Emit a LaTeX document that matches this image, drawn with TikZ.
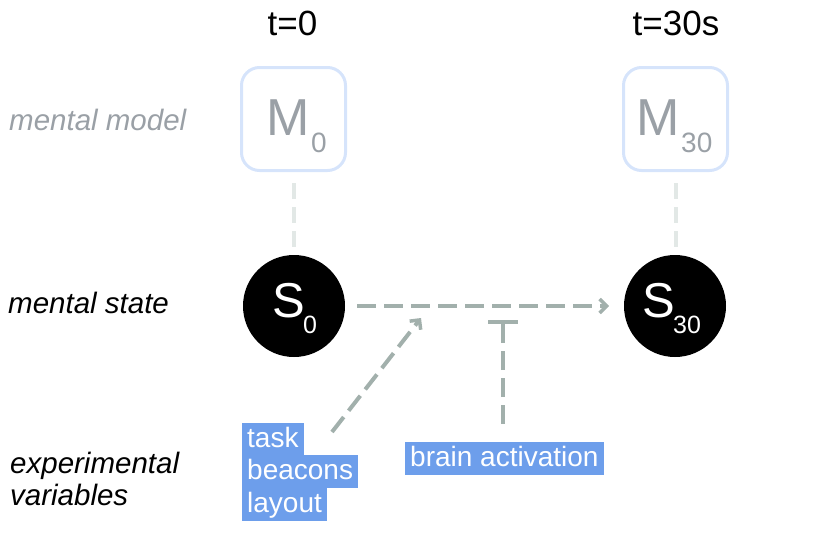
\documentclass[tikz,border=0pt]{standalone}
\usepackage{fontspec}
\setmainfont{Liberation Sans}
\usetikzlibrary{arrows.meta}
\definecolor{boxline}{HTML}{D6E4FB}
\definecolor{mgray}{HTML}{9AA0A6}
\definecolor{lgray}{HTML}{E2E8E6}
\definecolor{agray}{HTML}{A2B0AC}
\definecolor{lblue}{HTML}{6D9EEB}
\begin{document}
\begin{tikzpicture}[x=1pt,y=-1pt,
  timelabel/.style={font=\fontsize{35}{40}\selectfont, inner sep=0pt, anchor=base},
  modelbox/.style={draw=boxline, line width=3pt, rounded corners=18pt, minimum width=104pt, minimum height=103pt, inner sep=0pt},
  bigM/.style={text=mgray, font=\fontsize{52}{56}\selectfont, inner sep=0pt, anchor=base west},
  subM/.style={text=mgray, font=\fontsize{28}{30}\selectfont, inner sep=0pt, anchor=base west},
  statenode/.style={circle, fill=black, minimum size=102pt, inner sep=0pt},
  bigS/.style={text=white, font=\fontsize{49}{52}\selectfont, inner sep=0pt, anchor=base west},
  subS/.style={text=white, font=\fontsize{25}{28}\selectfont, inner sep=0pt, anchor=base west},
  rowlabel/.style={font=\fontsize{29.5}{32}\selectfont\itshape, anchor=base west, inner sep=0pt},
  varlabel/.style={fill=lblue, text=white, font=\fontsize{28}{30}\selectfont, anchor=base west, inner xsep=5pt, inner ysep=3.5pt, text height=20.5pt, text depth=5.5pt},
  lightdash/.style={draw=lgray, line width=4pt, dash pattern=on 16pt off 8pt},
  flow/.style={draw=agray, line width=4pt, dash pattern=on 19pt off 8pt},
  chev/.style={-{Straight Barb[length=7pt,width=14pt,line width=3.5pt]}}
]
\useasboundingbox (0,0) rectangle (830,533);
% time labels
\node[timelabel] (t0) at (292.5,35) {t=0};
\node[timelabel] (t30) at (676,35) {t=30s};
% row labels
\node[rowlabel, text=mgray] (lmodel) at (9,130) {mental model};
\node[rowlabel] (lstate) at (8,313) {mental state};
\node[rowlabel] (lvar1) at (10,473) {experimental};
\node[rowlabel] (lvar2) at (10,505) {variables};
% model boxes
\node[modelbox] (M0) at (293.5,119) {};
\node[modelbox] (M30) at (675.5,119) {};
\node[bigM] (M0m) at (266,135) {M};
\node[subM] (M0s) at (311,152) {0};
\node[bigM] (M30m) at (636,135) {M};
\node[subM] (M30s) at (681,152) {30};
% states
\node[statenode] (S0) at (294,306) {};
\node[statenode] (S30) at (675,306) {};
\node[bigS] (S0m) at (272,317) {S};
\node[subS] (S0s) at (303,333) {0};
\node[bigS] (S30m) at (642,317) {S};
\node[subS] (S30s) at (673,333) {30};
% model-state links
\coordinate (a0) at (293.5,183);
\coordinate (b0) at (293.5,247);
\coordinate (a30) at (675.5,183);
\coordinate (b30) at (675.5,247);
\draw[lightdash] (a0) -- (b0);
\draw[lightdash] (a30) -- (b30);
% coordinates
\coordinate (hstart) at (357,306);
\coordinate (hend) at (609,306);
\coordinate (dstart) at (332,432);
\coordinate (dend) at (421,318);
\coordinate (vstart) at (503,424);
\coordinate (vend) at (503,320);
% main transition
\draw[flow, chev] (hstart) -- (hend);
\draw[flow, chev] (dstart) -- (dend);
\draw[flow, -{Bar[width=30pt,line width=4pt]}] (vstart) -- (vend);
% variables
\node[varlabel] (vtask) at (242,447) {task};
\node[varlabel] (vbeacons) at (242,479) {beacons};
\node[varlabel] (vlayout) at (242,512) {layout};
\node[varlabel] (vbrain) at (405,466) {brain activation};
\end{tikzpicture}
\end{document}
